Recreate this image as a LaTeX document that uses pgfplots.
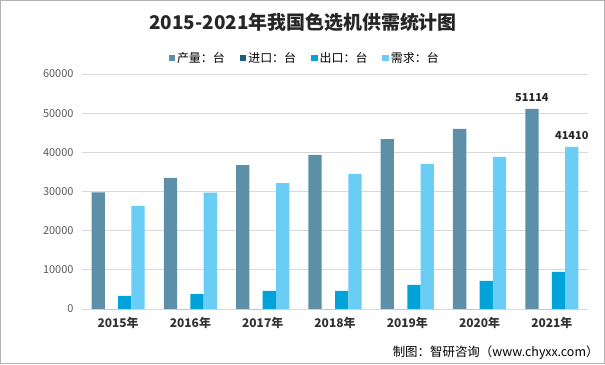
\documentclass[border=0pt]{standalone}
\usepackage{pgfplots}
\pgfplotsset{compat=1.18}
\usepackage{fontspec}
\setmainfont{Noto Sans CJK SC}
\definecolor{cA}{HTML}{5C8FA8}
\definecolor{cB}{HTML}{1B5F80}
\definecolor{cC}{HTML}{00A2DA}
\definecolor{cD}{HTML}{6ACDF5}
\definecolor{tickgray}{HTML}{595959}
\begin{document}
\begin{tikzpicture}[x=1bp,y=1bp]
\useasboundingbox (0,0) rectangle (605,364);
\draw[gray!60, line width=1.2bp] (0.6,0.6) rectangle (604.4,363.4);
\node[font=\fontsize{19}{19}\selectfont\bfseries, text=black!85] at (303,342) {2015-2021年我国色选机供需统计图};
\node[anchor=east, font=\fontsize{12.5}{12.5}\selectfont] at (602,364-353) {制图：智研咨询（www.chyxx.com）};
\begin{axis}[at={(82bp,55bp)}, anchor=south west, scale only axis,
  width=506bp, height=235bp,
  ybar=0pt, bar width=13.3bp,
  xmin=-0.5, xmax=6.5, ymin=0, ymax=60000,
  enlarge x limits=false,
  xtick={0,...,6},
  xticklabels={2015年,2016年,2017年,2018年,2019年,2020年,2021年},
  ytick={0,10000,...,60000},
  scaled y ticks=false,
  /pgf/number format/fixed,
  /pgf/number format/1000 sep={},
  /pgf/number format/assume math mode=true,
  yticklabel style={font=\fontsize{11}{11}\selectfont, text=tickgray, xshift=-5bp},
  xticklabel style={font=\fontsize{12}{12}\selectfont\bfseries, text=black!80, yshift=-5bp},
  axis line style={draw=none},
  major tick length=0pt,
  ymajorgrids, grid style={black!15, line width=0.9bp},
  legend style={at={(0.44,1.068)}, anchor=center, draw=none, fill=none,
    font=\fontsize{12}{12}\selectfont, legend columns=4,
    /tikz/every even column/.style={column sep=13bp}},
  legend image code/.code={\fill[#1] (0bp,-3bp) rectangle (6.5bp,3.5bp);},
]
\addplot[fill=cA, draw=none] coordinates {(0,29800) (1,33500) (2,36760) (3,39320) (4,43400) (5,45960) (6,51114)};
\addplot[fill=cB, draw=none] coordinates {(0,0) (1,0) (2,0) (3,0) (4,0) (5,0) (6,0)};
\addplot[fill=cC, draw=none] coordinates {(0,3350) (1,3830) (2,4600) (3,4600) (4,6130) (5,7150) (6,9450)};
\addplot[fill=cD, draw=none] coordinates {(0,26300) (1,29700) (2,32170) (3,34470) (4,37020) (5,38810) (6,41410)};
\legend{产量：台,进口：台,出口：台,需求：台}
\node[anchor=south, yshift=4bp, xshift=-19.95bp, font=\fontsize{11}{11}\selectfont\bfseries, text=black!85] at (axis cs:6,51114) {51114};
\node[anchor=south, yshift=4bp, xshift=19.95bp, font=\fontsize{11}{11}\selectfont\bfseries, text=black!85] at (axis cs:6,41410) {41410};
\end{axis}
\end{tikzpicture}
\end{document}
